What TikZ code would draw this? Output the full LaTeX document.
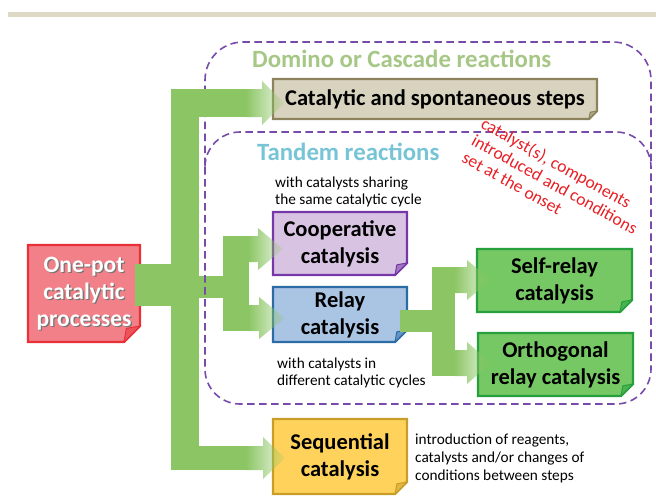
\documentclass[tikz,border=0pt]{standalone}
\usepackage{fontspec}
\setmainfont{Carlito}
\usetikzlibrary{calc,fadings}
\definecolor{G}{RGB}{140,198,100}
\definecolor{topbar}{RGB}{222,217,197}
\definecolor{dashc}{RGB}{118,75,170}
\definecolor{catfill}{RGB}{216,211,190}
\definecolor{catdraw}{RGB}{140,131,92}
\definecolor{onefill}{RGB}{242,128,136}
\definecolor{onedraw}{RGB}{232,48,56}
\definecolor{coopfill}{RGB}{216,196,226}
\definecolor{coopdraw}{RGB}{118,56,168}
\definecolor{relayfill}{RGB}{170,197,228}
\definecolor{relaydraw}{RGB}{44,108,166}
\definecolor{selffill}{RGB}{118,200,100}
\definecolor{selfdraw}{RGB}{38,160,60}
\definecolor{seqfill}{RGB}{255,210,92}
\definecolor{seqdraw}{RGB}{200,158,40}
\definecolor{dominoc}{RGB}{166,199,134}
\definecolor{tandemc}{RGB}{118,196,214}
\definecolor{redtxt}{RGB}{232,30,36}
\tikzfading[name=fadeR, left color=transparent!0, right color=transparent!85]
\pgfdeclarelayer{boxes}
\pgfdeclarelayer{arrows}
\pgfsetlayers{boxes,arrows,main}
\tikzset{
  box/.style={rectangle, inner sep=0pt, outer sep=0pt, align=center,
    font=\fontsize{22.5}{27}\selectfont\bfseries},
  dashbox/.style={draw=dashc, line width=1.6pt, dash pattern=on 7.5pt off 4.5pt},
  small/.style={inner sep=0pt, anchor=base west, font=\fontsize{15.3}{18}\selectfont},
  heading/.style={inner sep=0pt, anchor=base west, font=\fontsize{24.8}{28}\selectfont\bfseries},
  rednote/.style={inner sep=0pt, anchor=north west, rotate=-29, text=redtxt, align=left,
    font=\fontsize{17.5}{19.5}\selectfont}
}
\newcommand\boxshape[4]{%
  \begin{pgfonlayer}{boxes}
  \filldraw[fill=#2, draw=#3, line width=2.4pt, line join=miter]
    (#1.north west) -- (#1.north east) -- ([yshift=#4pt]#1.south east)
    -- ([xshift=-#4pt]#1.south east) -- (#1.south west) -- cycle;
  \filldraw[fill=#3!55!#2, draw=#3, line width=1pt, line join=round]
    ([yshift=#4pt]#1.south east) -- ([xshift=-#4pt]#1.south east)
    -- ([xshift=-0.85*#4pt, yshift=0.85*#4pt]#1.south east) -- cycle;
  \end{pgfonlayer}}
% #1 fade start x, #2 centre y, #3 half shaft, #4 head base x, #5 half head, #6 tip x
\newcommand\fadehead[6]{%
  \fill[G, path fading=fadeR] (#1,#2-#3) -- (#4,#2-#3) -- (#4,#2-#5) -- (#6,#2)
    -- (#4,#2+#5) -- (#4,#2+#3) -- (#1,#2+#3) -- cycle;}
\begin{document}
\begin{tikzpicture}[x=1pt,y=-1pt]
\useasboundingbox (0,0) rectangle (656,496);

% top rule
\fill[topbar] (8,12) rectangle (656,17);

% outer (domino) dashed frame, under the arrows
\begin{pgfonlayer}{boxes}
\draw[dashbox, rounded corners=38pt] (205,165) -- (205,42) -- (651,42) -- (651,165);
\end{pgfonlayer}

% boxes
\node[box, minimum width=324pt, minimum height=40pt] (cat) at (435,99) {Catalytic and spontaneous steps};
\boxshape{cat}{catfill}{catdraw}{8}

\node[box, font=\fontsize{23.5}{27}\selectfont\bfseries, text=black!55, minimum width=112pt, minimum height=97pt] (onepotshadow) at (85.3,294.8) {One-pot\\catalytic\\processes};
\node[box, font=\fontsize{23.5}{27}\selectfont\bfseries, text=white, minimum width=112pt, minimum height=97pt] (onepot) at (84,293.5) {One-pot\\catalytic\\processes};
\boxshape{onepot}{onefill}{onedraw}{16}

\node[box, minimum width=134pt, minimum height=63pt] (coop) at (340,243.5) {Cooperative\\catalysis};
\boxshape{coop}{coopfill}{coopdraw}{12}

\node[box, minimum width=134pt, minimum height=55pt] (relay) at (340,314.5) {Relay\\catalysis};
\boxshape{relay}{relayfill}{relaydraw}{12}

\node[box, minimum width=155pt, minimum height=63pt] (self) at (554.5,280.5) {Self-relay\\catalysis};
\boxshape{self}{selffill}{selfdraw}{12}

\node[box, minimum width=155pt, minimum height=63pt] (orth) at (555.5,364.5) {Orthogonal\\relay catalysis};
\boxshape{orth}{selffill}{selfdraw}{12}

\node[box, minimum width=134pt, minimum height=75pt] (seq) at (340,456.5) {Sequential\\catalysis};
\boxshape{seq}{seqfill}{seqdraw}{12}

% green block arrows
\begin{pgfonlayer}{arrows}
\fill[G] (135,264) rectangle (172,306);
\fill[G] (171,89) rectangle (199,470);
\fill[G] (198,89) rectangle (246.5,117);
\fadehead{246}{103}{14}{262}{22}{284}
\fill[G] (198,446) rectangle (246.5,470);
\fadehead{246}{458}{12}{263}{21}{285}
\fill[G] (198,276) rectangle (224,298);
\fill[G] (223,236) rectangle (249,331);
\fadehead{248.5}{249}{13}{258}{21}{283}
\fadehead{248.5}{318}{13}{259}{21}{285}
\fill[G] (400,310) rectangle (433,332);
\fill[G] (432,267) rectangle (455,376);
\fadehead{454.5}{280}{13}{467}{20}{491}
\fadehead{454.5}{363}{13}{467}{21}{491}
\end{pgfonlayer}

% inner (tandem) dashed frame
\draw[dashbox, rounded corners=35pt] (205,132) rectangle (651,404);

% headings
\node[heading, text=dominoc] (domino) at (252,67) {Domino or Cascade reactions};
\node[heading, text=tandemc] (tandem) at (257,160) {Tandem reactions};

% small annotations
\node[small] (sh1) at (275,187) {with catalysts sharing};
\node[small] (sh2) at (275,204.5) {the same catalytic cycle};
\node[small] (df1) at (277,368) {with catalysts in};
\node[small] (df2) at (277,385.5) {different catalytic cycles};
\node[small] (in1) at (415,444) {introduction of reagents,};
\node[small] (in2) at (415,462) {catalysts and/or changes of};
\node[small] (in3) at (415,480) {conditions between steps};

% red rotated note
\node[rednote] (rednote) at (486,116) {catalyst(s), components\\introduced and conditions\\set at the onset};
\end{tikzpicture}
\end{document}
